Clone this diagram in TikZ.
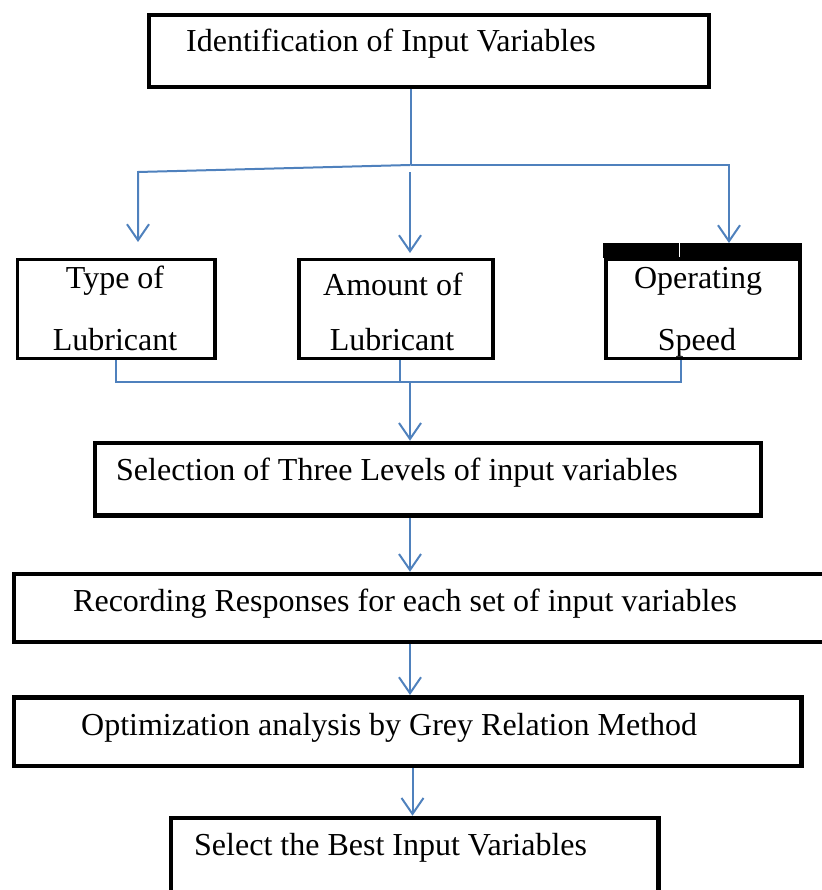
\documentclass[tikz,border=0pt]{standalone}
\usepackage{fontspec}
\setmainfont{Liberation Serif}
\usetikzlibrary{arrows.meta}

\definecolor{flowblue}{RGB}{79,129,189}

\begin{document}
\begin{tikzpicture}[x=1pt,y=-1pt,
    every node/.style={font=\fontsize{32}{38}\selectfont,inner sep=0pt},
    bigbox/.style={draw=black,line width=4.5pt},
    smallbox/.style={draw=black,line width=3.5pt,minimum width=194pt,minimum height=98.5pt},
    txt/.style={anchor=base west},
    ctxt/.style={anchor=base},
    flow/.style={draw=flowblue,line width=2pt},
    flowarrow/.style={flow,-{Straight Barb[length=16pt,width=22pt]}}
    ]
    \useasboundingbox (0,0) rectangle (821,890);

    % boxes of the flow chart
    \node[bigbox,minimum width=560pt,minimum height=72pt] (ident) at (429,51) {};
    \node[txt] (identtxt) at (186,52) {Identification of Input Variables};

    \node[smallbox,minimum width=197.5pt] (type) at (116,309) {};
    \node[ctxt] (typeA) at (115,288) {Type of};
    \node[ctxt] (typeB) at (115,350) {Lubricant};

    \node[smallbox] (amount) at (396,309) {};
    \node[ctxt] (amountA) at (393,295) {Amount of};
    \node[ctxt] (amountB) at (392,350) {Lubricant};

    \node[smallbox] (speed) at (703,309) {};
    \node[fill=black,minimum width=199pt,minimum height=15.5pt,outer sep=0pt] (speedbar) at (702.5,250.75) {};
    \draw[white,line width=0.8pt] (679,243) -- (679,257.5); % little gap in the bar
    \node[ctxt] (speedA) at (698,288) {Operating};
    \node[ctxt] (speedB) at (697,350) {Speed};

    \node[bigbox,minimum width=666pt,minimum height=72.5pt] (sel) at (428,479.25) {};
    \node[txt] (seltxt) at (116,480) {Selection of Three Levels of input variables};

    \node[bigbox,minimum width=832pt,minimum height=67.75pt] (rec) at (430,607.9) {};
    \node[txt] (rectxt) at (73,611.5) {Recording Responses for each set of input variables};

    \node[bigbox,minimum width=787.5pt,minimum height=68.5pt] (opt) at (407.75,731.5) {};
    \node[txt] (opttxt) at (81,735) {Optimization analysis by Grey Relation Method};

    \node[bigbox,minimum width=487.5pt,minimum height=87pt] (best) at (414.75,861.5) {};
    \node[txt] (besttxt) at (194,855) {Select the Best Input Variables};

    % splitting lines under the first box
    \coordinate (split) at (410.5,165);
    \coordinate (leftend) at (138,172);
    \coordinate (rightend) at (729,165);
    \coordinate (midstart) at (410,172.5);
    \draw[flow] (ident.south -| split) -- (split);
    \draw[flowarrow] (split) -- (leftend) -- ([yshift=1pt]leftend |- speedbar.north);
    \draw[flowarrow] (split) -- (rightend) -- (rightend |- speedbar.north);
    \draw[flowarrow] (midstart) -- ([yshift=5pt]midstart |- amount.north);

    % joining lines under the three boxes
    \coordinate (joinL) at (116,382);
    \coordinate (joinM) at (399.5,382);
    \coordinate (joinR) at (681,382);
    \coordinate (join) at (410,382);
    \draw[flow] (type.south -| joinL) -- (joinL) -- (joinR) -- (speed.south -| joinR);
    \draw[flow] (amount.south -| joinM) -- (joinM);
    \draw[flowarrow] (join) -- (join |- sel.north);

    % arrows down the chain
    \coordinate (spine) at (410,0);
    \coordinate (spineB) at (412.5,0);
    \draw[flowarrow] (spine |- sel.south) -- (spine |- rec.north);
    \draw[flowarrow] (spine |- rec.south) -- (spine |- opt.north);
    \draw[flowarrow] (spineB |- opt.south) -- (spineB |- best.north);

\end{tikzpicture}
\end{document}
